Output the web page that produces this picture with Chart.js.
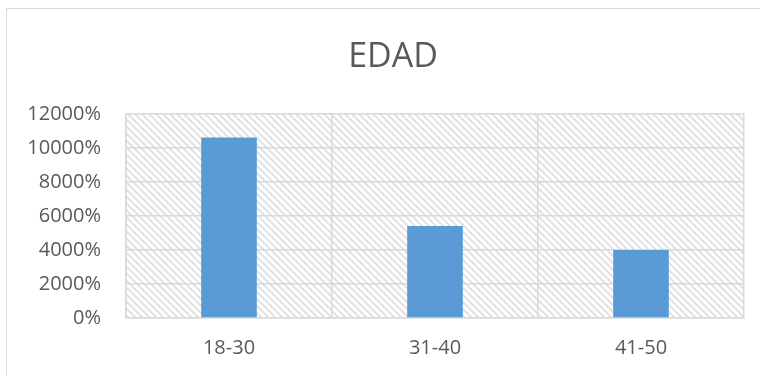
<!DOCTYPE html>
<html>
<head>
<meta charset="utf-8">
<script src="https://cdn.jsdelivr.net/npm/chart.js@4/dist/chart.umd.min.js"></script>
<style>
  html, body { margin: 0; padding: 0; background: #fff; }
  #wrap { width: 760px; height: 376px; position: relative; }
</style>
</head>
<body>
<div id="wrap"><canvas id="edad-chart" width="760" height="376"></canvas></div>
<script>
// Chart data
const categories = ['18-30', '31-40', '41-50'];
const values = [10600, 5400, 4000]; // percent
const yTicks = [0, 2000, 4000, 6000, 8000, 10000, 12000];

const gridColor = '#d9d9d9';
const textColor = '#595959';

// Diagonal hatch pattern for the plot area
function makeHatch() {
    const p = document.createElement('canvas');
    p.width = 7;
    p.height = 7;
    const c = p.getContext('2d');
    c.strokeStyle = '#e2e2e2';
    c.lineWidth = 2;
    c.beginPath();
    c.moveTo(-1, -1); c.lineTo(8, 8);
    c.moveTo(-1, 6); c.lineTo(1, 8);
    c.moveTo(6, -1); c.lineTo(8, 1);
    c.stroke();
    return c.createPattern(p, 'repeat');
}

const backgroundPlugin = {
    id: 'backgroundPlugin',
    afterLayout(chart) {
        // centre the title over the outer frame rather than the whole canvas
        const t = chart.titleBlock;
        if (t) {
            t.left = 42;
            t.width = t.right - t.left;
        }
    },
    beforeDraw(chart) {
        const ctx = chart.ctx;
        const a = chart.chartArea;
        ctx.save();
        ctx.fillStyle = '#fff';
        ctx.fillRect(0, 0, chart.width, chart.height);
        // outer chart border
        ctx.strokeStyle = gridColor;
        ctx.lineWidth = 1;
        ctx.strokeRect(6.5, 8.5, 800, 400);
        // hatched plot area
        ctx.fillStyle = makeHatch();
        ctx.fillRect(a.left, a.top, a.right - a.left, a.bottom - a.top);
        ctx.restore();
    }
};

const ctx = document.getElementById('edad-chart').getContext('2d');
const edadChart = new Chart(ctx, {
    type: 'bar',
    data: {
        labels: categories,
        datasets: [{
            label: 'EDAD',
            data: values,
            backgroundColor: '#5b9bd5',
            borderWidth: 0,
            categoryPercentage: 1,
            barPercentage: 0.27
        }]
    },
    options: {
        responsive: false,
        animation: false,
        layout: {
            padding: { top: 0, right: 16, bottom: 0, left: 0 }
        },
        scales: {
            x: {
                grid: {
                    color: gridColor,
                    lineWidth: 1.5,
                    drawTicks: false
                },
                border: { color: gridColor, width: 1.5 },
                ticks: {
                    color: textColor,
                    font: { family: 'Open Sans', size: 20 },
                    padding: 18
                },
                afterFit(scale) { scale.height = 58; }
            },
            y: {
                min: 0,
                max: 12000,
                afterBuildTicks(scale) {
                    scale.ticks = yTicks.map(v => ({ value: v }));
                },
                grid: {
                    color: gridColor,
                    lineWidth: 1.5,
                    drawTicks: false
                },
                border: { color: gridColor, width: 1.5 },
                ticks: {
                    color: textColor,
                    font: { family: 'Open Sans', size: 20 },
                    padding: 25,
                    callback: v => v + '%'
                },
                afterFit(scale) { scale.width = 126; }
            }
        },
        plugins: {
            legend: { display: false },
            tooltip: { enabled: false },
            title: {
                display: true,
                text: 'EDAD',
                color: textColor,
                font: { family: 'Open Sans', size: 34, weight: 'normal' },
                padding: { top: 37, bottom: 36 }
            }
        }
    },
    plugins: [backgroundPlugin]
});
</script>
</body>
</html>
